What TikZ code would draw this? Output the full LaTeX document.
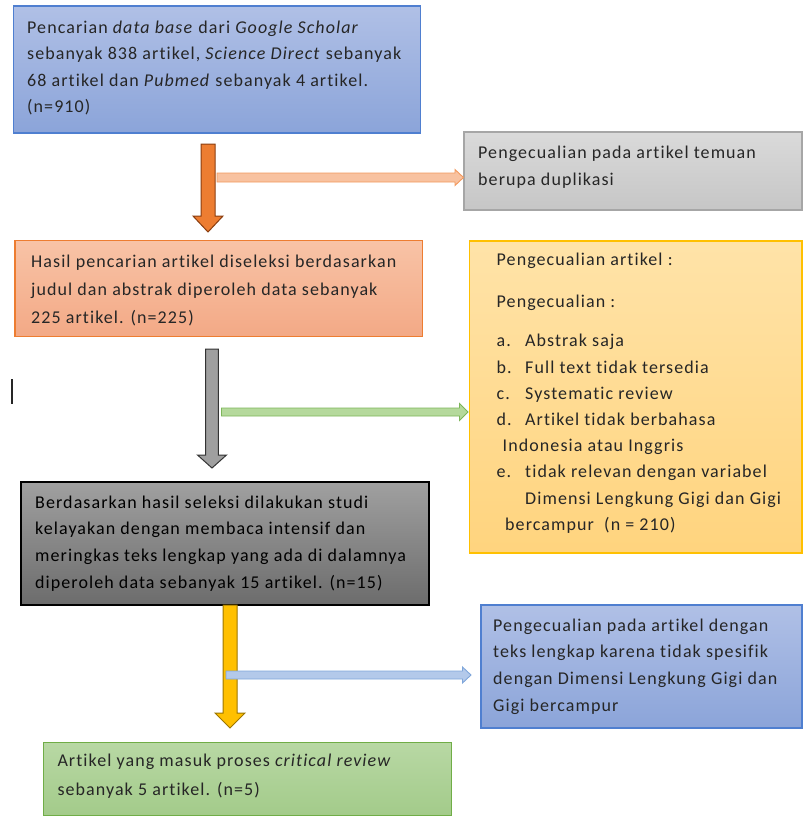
\documentclass[tikz,border=0pt]{standalone}
\usepackage{fontspec}
\setmainfont{Carlito}[LetterSpace=6, Ligatures={NoCommon}]
\definecolor{txtcol}{HTML}{262626}
\definecolor{blueT}{HTML}{B0C0E6}
\definecolor{blueB}{HTML}{8BA4D9}
\definecolor{blueD}{HTML}{4F7FD0}
\definecolor{grayT}{HTML}{DADADA}
\definecolor{grayB}{HTML}{C6C6C6}
\definecolor{grayD}{HTML}{A6A6A6}
\definecolor{salT}{HTML}{F8C3A6}
\definecolor{salB}{HTML}{F3A986}
\definecolor{salD}{HTML}{ED7D31}
\definecolor{yelT}{HTML}{FFE3A8}
\definecolor{yelB}{HTML}{FFD47E}
\definecolor{yelD}{HTML}{FFC000}
\definecolor{dkT}{HTML}{A0A0A0}
\definecolor{dkB}{HTML}{6C6C6C}
\definecolor{grnT}{HTML}{B8D8A4}
\definecolor{grnB}{HTML}{A3CB8A}
\definecolor{grnD}{HTML}{70AD47}
\definecolor{oraF}{HTML}{ED7D31}
\definecolor{oraD}{HTML}{8A3E10}
\definecolor{oraL}{HTML}{F8C2A0}
\definecolor{oraLD}{HTML}{F2995E}
\definecolor{grnL}{HTML}{B5D99C}
\definecolor{grnLD}{HTML}{7DB65A}
\definecolor{bluL}{HTML}{B3C9EA}
\definecolor{bluLD}{HTML}{7FA6DA}
\definecolor{ylwF}{HTML}{FFC000}
\definecolor{ylwD}{HTML}{9C7600}
\newcommand\varr[7]{%
  \draw[#1] ({#2-#6},#3) -- ({#2+#6},#3) -- ({#2+#6},#4) -- ({#2+#7},#4)
    -- (#2,#5) -- ({#2-#7},#4) -- ({#2-#6},#4) -- cycle;}
\newcommand\harr[7]{%
  \draw[#1] (#3,{#2-#6}) -- (#4,{#2-#6}) -- (#4,{#2-#7}) -- (#5,#2)
    -- (#4,{#2+#7}) -- (#4,{#2+#6}) -- (#3,{#2+#6}) -- cycle;}
\begin{document}
\begin{tikzpicture}[x=1pt,y=-1pt,
  box/.style={anchor=north west, inner sep=0pt, outer sep=0pt, line width=1.3pt},
  txt/.style={anchor=north west, inner sep=0pt, align=left, text=txtcol,
              font=\fontsize{18}{26.5}\selectfont}]
\useasboundingbox (0,0) rectangle (804,816);
% boxes
\node[box, draw=blueD, top color=blueT, bottom color=blueB,
      minimum width=407, minimum height=127] (b1) at (13.3,6) {};
\node[box, draw=grayD, top color=grayT, bottom color=grayB,
      minimum width=338, minimum height=78] (g1) at (464,132) {};
\node[box, draw=salD, top color=salT, bottom color=salB,
      minimum width=407.5, minimum height=95.5] (b2) at (15,240.7) {};
\node[box, draw=yelD, top color=yelT, bottom color=yelB,
      minimum width=332.5, minimum height=312] (y1) at (469.5,241) {};
\node[box, draw=black, top color=dkT, bottom color=dkB,
      minimum width=408, minimum height=123] (b3) at (21,482) {};
\node[box, draw=blueD, top color=blueT, bottom color=blueB,
      minimum width=321, minimum height=123] (u1) at (481,605) {};
\node[box, draw=grnD, top color=grnT, bottom color=grnB,
      minimum width=408, minimum height=72.5] (b4) at (43.5,742.7) {};
% texts
\node[txt] (t1) at (27,19) {\rule{0pt}{14pt}Pencarian \textit{data base} dari \textit{Google Scholar}\\
  sebanyak 838 artikel, \textit{Science Direct} sebanyak\\
  68 artikel dan \textit{Pubmed} sebanyak 4 artikel.\\
  (n=910)};
\node[txt, font=\fontsize{18}{27}\selectfont] (tg) at (478,144) {\rule{0pt}{14pt}Pengecualian pada artikel temuan\\ berupa duplikasi};
\node[txt, font=\fontsize{18}{28}\selectfont] (t2) at (31,253) {\rule{0pt}{14pt}Hasil pencarian artikel diseleksi berdasarkan\\
  judul dan abstrak diperoleh data sebanyak\\
  225 artikel. (n=225)};
\node[txt, font=\fontsize{18}{26.2}\selectfont] (ty) at (496.5,251) {\rule{0pt}{14pt}Pengecualian artikel :\\[16.5pt]
  Pengecualian :\\[12.8pt]
  \makebox[28.5pt][l]{a.}Abstrak saja\\
  \makebox[28.5pt][l]{b.}Full text tidak tersedia\\
  \makebox[28.5pt][l]{c.}Systematic review\\
  \makebox[28.5pt][l]{d.}Artikel tidak berbahasa\\
  \hspace*{6pt}Indonesia atau Inggris\\
  \makebox[28.5pt][l]{e.}tidak relevan dengan variabel\\
  \hspace*{28.5pt}Dimensi Lengkung Gigi dan Gigi\\
  \hspace*{8.5pt}bercampur\ \ (n = 210)};
\node[txt, text=black, font=\fontsize{18}{26.7}\selectfont] (t3) at (35,494) {\rule{0pt}{14pt}Berdasarkan hasil seleksi dilakukan studi\\
  kelayakan dengan membaca intensif dan\\
  meringkas teks lengkap yang ada di dalamnya\\
  diperoleh data sebanyak 15 artikel. (n=15)};
\node[txt, font=\fontsize{18}{26.7}\selectfont] (tu) at (493,617) {\rule{0pt}{14pt}Pengecualian pada artikel dengan\\
  teks lengkap karena tidak spesifik\\
  dengan Dimensi Lengkung Gigi dan\\
  Gigi bercampur};
\node[txt, font=\fontsize{18}{28.3}\selectfont] (t4) at (57.3,752.7) {\rule{0pt}{14pt}Artikel yang masuk proses \textit{critical review}\\
  sebanyak 5 artikel. (n=5)};
% vertical block arrows
\varr{fill=oraF, draw=oraD, line width=1pt}{208}{144}{216}{232}{7}{15}
\varr{fill=gray!75, draw=gray!40!black, line width=1pt}{212}{349}{455}{468}{6.3}{14.5}
\varr{fill=ylwF, draw=ylwD, line width=1pt}{230}{605}{713}{728}{7}{15}
% horizontal arrows to the exclusion boxes
\harr{fill=oraL, draw=oraLD, line width=0.9pt}{177.5}{217}{455}{463.5}{4.5}{8}
\harr{fill=grnL, draw=grnLD, line width=0.9pt}{412}{221.5}{459.5}{468}{4}{8.5}
\harr{fill=bluL, draw=bluLD, line width=0.9pt}{675}{226}{462.5}{471}{4}{8}
% text cursor
\draw[line width=1.6pt, black!85] (11.7,379) -- (11.7,404);
\end{tikzpicture}
\end{document}
